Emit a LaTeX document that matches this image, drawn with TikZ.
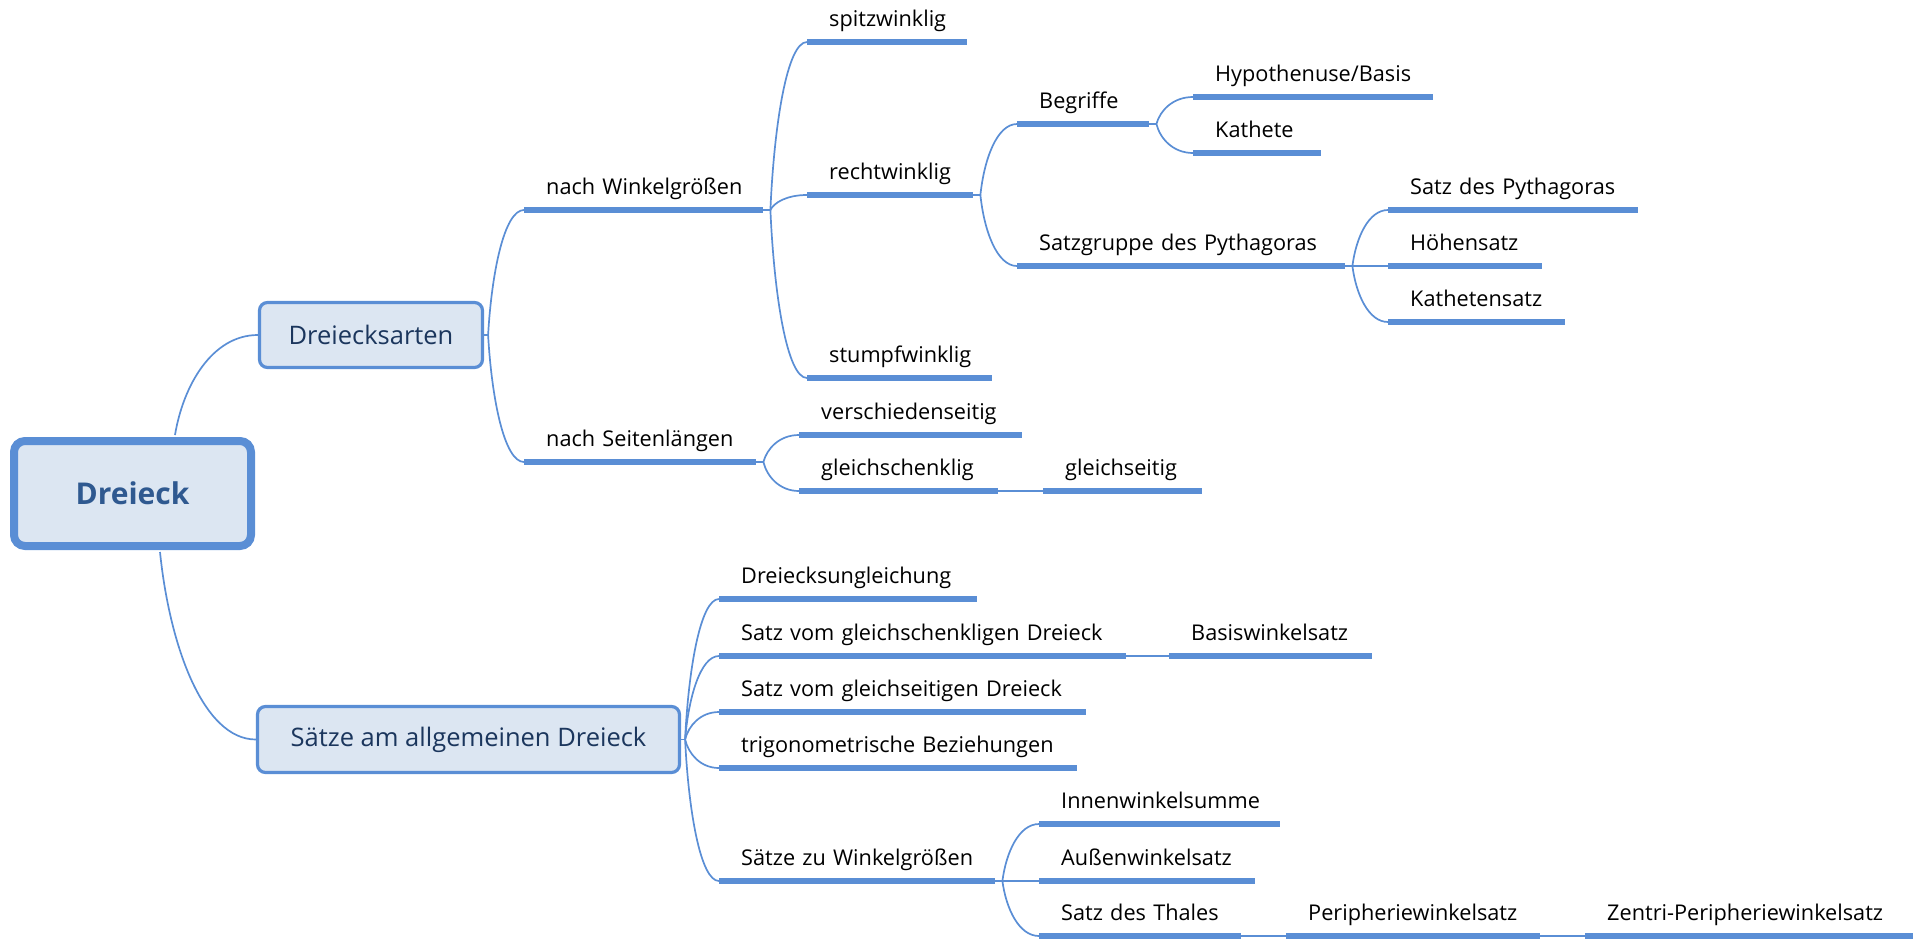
\documentclass[tikz,border=0pt]{standalone}
\usepackage{fontspec}
\setmainfont{Open Sans}
\usetikzlibrary{calc}

\definecolor{branch}{HTML}{5A8ED5}
\definecolor{boxfill}{HTML}{DCE6F2}
\definecolor{boxtext}{HTML}{1B365D}
\definecolor{roottext}{HTML}{2F5990}
\definecolor{labeltext}{HTML}{000000}

\tikzset{
  conn/.style={draw=branch, line width=1.7pt},
  uline/.style={draw=branch, line width=5.2pt, line cap=butt},
  topic/.style={anchor=south west, inner xsep=22pt, inner ysep=0pt,
    text height=17pt, text depth=15pt, align=left, text=labeltext,
    font=\fontsize{21.7}{26}\selectfont},
  mainbox/.style={draw=branch, fill=boxfill, line width=3.2pt, rounded corners=8pt,
    inner sep=0pt, text=boxtext, font=\fontsize{25.5}{30}\selectfont},
  rootbox/.style={draw=branch, fill=boxfill, line width=8pt, rounded corners=11pt,
    inner sep=0pt, text=roottext, font=\fontsize{30}{36}\selectfont\bfseries},
}

% a topic: name, left end, right end, y of the underline, label
\newcommand\mmtopic[5]{%
  \pgfmathsetmacro\mmtw{#3-#2-44}%
  \node[topic, text width=\mmtw pt] (#1) at (#2,#4) {\mbox{#5}};%
  \draw[uline] (#1.south west) -- (#1.south east);}

% curved branch from a junction to the left end of a child's underline
\newcommand\mmlink[2]{%
  \draw[conn] let \p1=(#1), \p2=(#2) in (\p1)
    .. controls ({\x1+0.1*(\x2-\x1)},{\y1+0.5*(\y2-\y1)})
    and ({\x1+0.45*(\x2-\x1)},{\y2}) .. (\p2);}

\begin{document}
\begin{tikzpicture}[x=1pt, y=-1pt]
\useasboundingbox (0,0) rectangle (1913,938);

% central topic and the two main branches
\node[rootbox, minimum width=237pt, minimum height=105pt] (root) at (132.5,493.5) {Dreieck};
\node[mainbox, minimum width=223pt, minimum height=65pt] (arten) at (371,335) {Dreiecksarten};
\node[mainbox, minimum width=422pt, minimum height=66pt] (saetze) at (468.5,739.5) {Sätze am allgemeinen Dreieck};

\coordinate (rtop) at ($(root.north)+(42.5,-2)$);
\coordinate (rbot) at ($(root.south)+(27.5,2)$);
\mmlink{rtop}{arten.west}
\mmlink{rbot}{saetze.west}

% Dreiecksarten
\mmtopic{winkel}{524}{763}{210}{nach Winkelgrößen}
\mmtopic{seiten}{524}{756}{462}{nach Seitenlängen}
\mmtopic{spitz}{807}{967}{42}{spitzwinklig}
\mmtopic{recht}{807}{973}{195}{rechtwinklig}
\mmtopic{stumpf}{807}{992}{378}{stumpfwinklig}
\mmtopic{begriffe}{1017}{1149}{124}{Begriffe}
\mmtopic{gruppe}{1017}{1345}{266}{Satzgruppe des Pythagoras}
\mmtopic{hypo}{1193}{1433}{97}{Hypothenuse/Basis}
\mmtopic{kathete}{1193}{1321}{153}{Kathete}
\mmtopic{pyth}{1388}{1638}{210}{Satz des Pythagoras}
\mmtopic{hoehe}{1388}{1542}{266}{Höhensatz}
\mmtopic{kathsatz}{1388}{1565}{322}{Kathetensatz}
\mmtopic{versch}{799}{1022}{435}{verschiedenseitig}
\mmtopic{gschenk}{799}{998}{491}{gleichschenklig}
\mmtopic{gseitig}{1043}{1202}{491}{gleichseitig}

% Sätze am allgemeinen Dreieck
\mmtopic{ungl}{719}{977}{599}{Dreiecksungleichung}
\mmtopic{svgs}{719}{1126}{656}{Satz vom gleichschenkligen Dreieck}
\mmtopic{basis}{1169}{1372}{656}{Basiswinkelsatz}
\mmtopic{svgt}{719}{1086}{712}{Satz vom gleichseitigen Dreieck}
\mmtopic{trig}{719}{1077}{768}{trigonometrische Beziehungen}
\mmtopic{swgr}{719}{995}{881}{Sätze zu Winkelgrößen}
\mmtopic{innen}{1039}{1280}{824}{Innenwinkelsumme}
\mmtopic{aussen}{1039}{1255}{881}{Außenwinkelsatz}
\mmtopic{thales}{1039}{1241}{936}{Satz des Thales}
\mmtopic{peri}{1286}{1540}{936}{Peripheriewinkelsatz}
\mmtopic{zentri}{1585}{1913}{936}{Zentri-Peripheriewinkelsatz}

% junctions
\coordinate (ja) at ($(arten.east)+(4,0)$);
\coordinate (js) at ($(saetze.east)+(4,0)$);
\coordinate (jw) at ($(winkel.south east)+(7,0)$);
\coordinate (jl) at ($(seiten.south east)+(7,0)$);
\coordinate (jr) at ($(recht.south east)+(7,0)$);
\coordinate (jb) at ($(begriffe.south east)+(7,0)$);
\coordinate (jg) at ($(gruppe.south east)+(7,0)$);
\coordinate (jz) at ($(swgr.south east)+(7,0)$);

\draw[conn] (arten.east) -- (ja);
\draw[conn] (saetze.east) -- (js);
\draw[conn] (winkel.south east) -- (jw);
\draw[conn] (seiten.south east) -- (jl);
\draw[conn] (recht.south east) -- (jr);
\draw[conn] (begriffe.south east) -- (jb);
\draw[conn] (gruppe.south east) -- (jg);
\draw[conn] (swgr.south east) -- (jz);

% branches
\mmlink{ja}{winkel.south west}
\mmlink{ja}{seiten.south west}
\mmlink{jw}{spitz.south west}
\mmlink{jw}{recht.south west}
\mmlink{jw}{stumpf.south west}
\mmlink{jr}{begriffe.south west}
\mmlink{jr}{gruppe.south west}
\mmlink{jb}{hypo.south west}
\mmlink{jb}{kathete.south west}
\mmlink{jg}{pyth.south west}
\mmlink{jg}{hoehe.south west}
\mmlink{jg}{kathsatz.south west}
\mmlink{jl}{versch.south west}
\mmlink{jl}{gschenk.south west}
\draw[conn] (gschenk.south east) -- (gseitig.south west);

\mmlink{js}{ungl.south west}
\mmlink{js}{svgs.south west}
\mmlink{js}{svgt.south west}
\mmlink{js}{trig.south west}
\mmlink{js}{swgr.south west}
\draw[conn] (svgs.south east) -- (basis.south west);
\mmlink{jz}{innen.south west}
\mmlink{jz}{aussen.south west}
\mmlink{jz}{thales.south west}
\draw[conn] (thales.south east) -- (peri.south west);
\draw[conn] (peri.south east) -- (zentri.south west);
\end{tikzpicture}
\end{document}
